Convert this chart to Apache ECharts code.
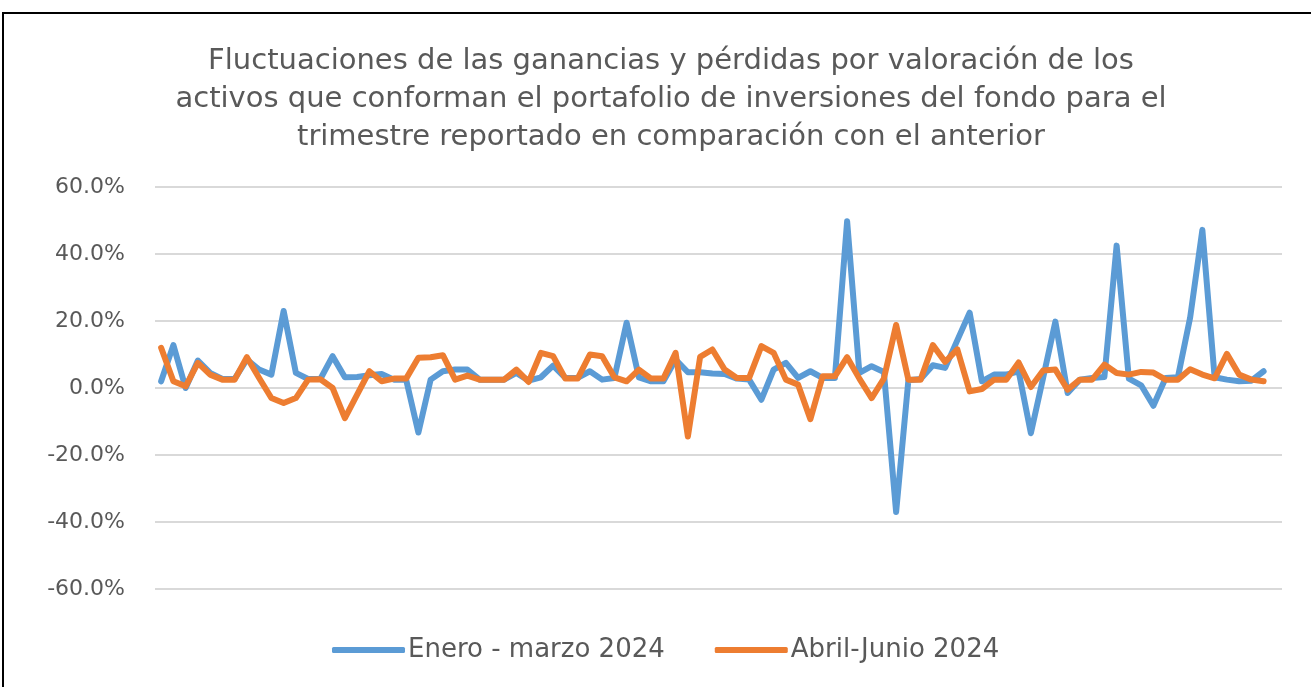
<!DOCTYPE html>
<html>
<head>
<meta charset="utf-8">
<script src="https://cdn.jsdelivr.net/npm/echarts@6/dist/echarts.min.js"></script>
<style>
  html, body { margin: 0; padding: 0; background: #fff; }
  #main { width: 1311px; height: 687px; }
</style>
</head>
<body>
<div id="main"></div>
<script>
// categorias del eje X (sin etiquetas visibles)
var categorias = ['1','2','3','4','5','6','7','8','9','10','11','12','13','14','15','16','17','18','19','20',
  '21','22','23','24','25','26','27','28','29','30','31','32','33','34','35','36','37','38','39','40',
  '41','42','43','44','45','46','47','48','49','50','51','52','53','54','55','56','57','58','59','60',
  '61','62','63','64','65','66','67','68','69','70','71','72','73','74','75','76','77','78','79','80',
  '81','82','83','84','85','86','87','88','89','90','91','92'];

// Enero - marzo 2024 (%)
var eneroMarzo = [2.0, 12.8, 0.0, 8.2, 4.5, 2.7, 2.7, 8.5, 5.5, 4.0,
  23.0, 4.5, 2.7, 2.7, 9.5, 3.2, 3.3, 3.8, 4.2, 2.5,
  2.5, -13.3, 2.5, 5.0, 5.5, 5.5, 2.5, 2.5, 2.5, 4.5,
  2.2, 3.2, 6.7, 3.0, 3.0, 5.0, 2.5, 3.0, 19.5, 3.2,
  2.0, 2.0, 8.5, 4.7, 4.7, 4.3, 4.2, 2.8, 2.5, -3.5,
  5.5, 7.5, 3.0, 5.0, 3.0, 3.0, 49.8, 4.5, 6.5, 4.8,
  -37.0, 2.3, 2.7, 6.8, 6.0, 14.3, 22.5, 2.0, 4.0, 4.0,
  5.0, -13.5, 3.0, 19.8, -1.5, 2.5, 3.0, 3.3, 42.5, 2.8,
  0.8, -5.3, 3.0, 3.2, 21.0, 47.2, 3.2, 2.5, 2.0, 2.2,
  5.0, null];

// Abril-Junio 2024 (%)
var abrilJunio = [12.0, 2.0, 0.5, 7.5, 4.0, 2.5, 2.5, 9.2, 3.0, -3.0,
  -4.5, -3.0, 2.5, 2.6, 0.0, -9.0, -2.0, 5.0, 2.0, 2.8,
  2.8, 9.0, 9.2, 9.8, 2.5, 3.7, 2.5, 2.5, 2.5, 5.5,
  1.8, 10.5, 9.5, 2.8, 2.8, 10.0, 9.5, 3.2, 2.0, 5.5,
  2.8, 2.8, 10.5, -14.5, 9.3, 11.5, 5.5, 3.0, 3.0, 12.5,
  10.5, 2.5, 1.0, -9.3, 3.5, 3.5, 9.2, 2.8, -3.0, 2.8,
  18.8, 2.5, 2.5, 12.8, 7.8, 11.5, -1.0, -0.3, 2.5, 2.5,
  7.6, 0.3, 5.2, 5.5, -0.5, 2.5, 2.5, 7.0, 4.5, 4.0,
  4.8, 4.6, 2.5, 2.5, 5.6, 4.0, 2.9, 10.2, 4.0, 2.5,
  2.0, null];

var fuente = '"DejaVu Sans", Verdana, sans-serif';

var myChart = echarts.init(document.getElementById('main'));

var option = {
    backgroundColor: '#fff',
    animation: false,
    title: {
        text: 'Fluctuaciones de las ganancias y pérdidas por valoración de los\nactivos que conforman el portafolio de inversiones del fondo para el\ntrimestre reportado en comparación con el anterior',
        left: 666,
        textAlign: 'center',
        top: 37,
        textStyle: {
            fontFamily: fuente,
            fontSize: 29,
            fontWeight: 'normal',
            lineHeight: 38,
            color: '#595959'
        }
    },
    legend: {
        data: ['Enero - marzo 2024', 'Abril-Junio 2024'],
        left: 327,
        top: 632,
        itemWidth: 73,
        itemHeight: 6,
        itemGap: 50,
        icon: 'roundRect',
        textStyle: {
            fontFamily: fuente,
            fontSize: 26,
            color: '#595959',
            padding: [0, 0, 0, -2]
        }
    },
    grid: {
        left: 155,
        right: 29,
        top: 187,
        bottom: 98
    },
    xAxis: {
        type: 'category',
        boundaryGap: true,
        data: categorias,
        axisLine: { show: false },
        axisTick: { show: false },
        axisLabel: { show: false }
    },
    yAxis: {
        type: 'value',
        min: -60,
        max: 60,
        interval: 20,
        axisLine: { show: false },
        axisTick: { show: false },
        axisLabel: {
            margin: 30,
            fontFamily: fuente,
            fontSize: 22,
            color: '#595959',
            formatter: function (v) { return v.toFixed(1) + '%'; }
        },
        splitLine: {
            lineStyle: { color: '#d9d9d9', width: 2 }
        }
    },
    series: [
        {
            name: 'Enero - marzo 2024',
            type: 'line',
            data: eneroMarzo,
            symbol: 'none',
            color: '#5b9bd5',
            lineStyle: { width: 6, color: '#5b9bd5', cap: 'round', join: 'round' }
        },
        {
            name: 'Abril-Junio 2024',
            type: 'line',
            data: abrilJunio,
            symbol: 'none',
            color: '#ed7d31',
            lineStyle: { width: 6, color: '#ed7d31', cap: 'round', join: 'round' }
        }
    ],
    graphic: [
        {
            type: 'rect',
            silent: true,
            shape: { x: 3, y: 13, width: 1330, height: 700 },
            style: { fill: 'none', stroke: '#000', lineWidth: 2 }
        }
    ]
};

myChart.setOption(option);

window.onresize = function () {
    myChart.resize();
};
</script>
</body>
</html>
